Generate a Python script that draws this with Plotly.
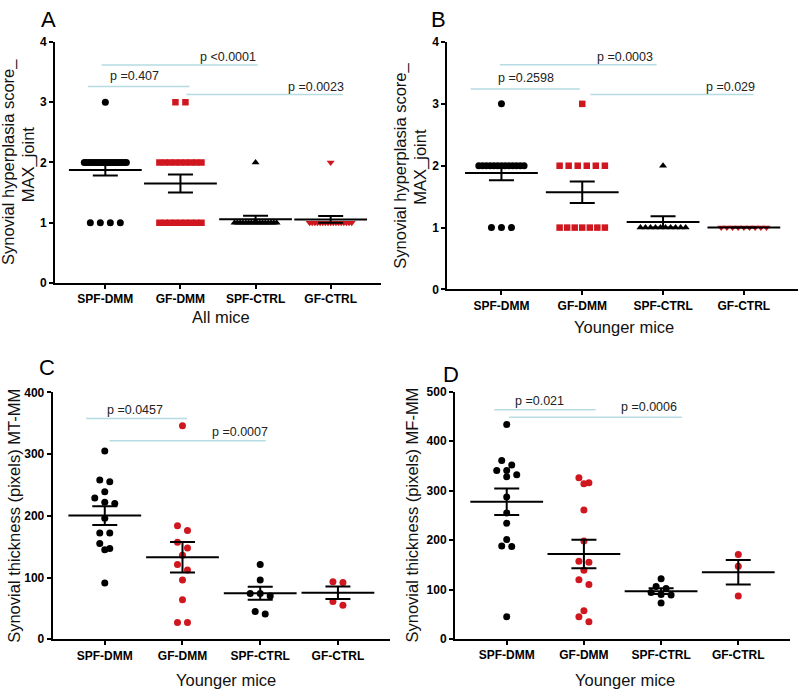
import numpy as np
import plotly.graph_objects as go

W, H = 800, 693

# ---------------- data ----------------
categories = ["SPF-DMM", "GF-DMM", "SPF-CTRL", "GF-CTRL"]

# Panel A: all mice, synovial hyperplasia score (MAX_joint)
a_spf_dmm = [3, 2, 2, 2, 2, 2, 2, 2, 2, 2, 2, 2, 2, 2, 2, 2, 2, 2, 2, 2, 1, 1, 1, 1]
a_gf_dmm = [3, 3, 2, 2, 2, 2, 2, 2, 2, 2, 2, 1, 1, 1, 1, 1, 1, 1, 1, 1]
a_spf_ctrl = [2, 1, 1, 1, 1, 1, 1, 1, 1, 1, 1, 1, 1, 1, 1, 1, 1]
a_gf_ctrl = [2, 1, 1, 1, 1, 1, 1, 1, 1, 1, 1, 1, 1, 1, 1, 1, 1, 1]

# Panel B: younger mice, synovial hyperplasia score (MAX_joint)
b_spf_dmm = [3, 2, 2, 2, 2, 2, 2, 2, 2, 2, 2, 2, 2, 2, 1, 1, 1]
b_gf_dmm = [3, 2, 2, 2, 2, 2, 2, 1, 1, 1, 1, 1, 1, 1]
b_spf_ctrl = [2, 1, 1, 1, 1, 1, 1, 1, 1, 1, 1]
b_gf_ctrl = [1, 1, 1, 1, 1, 1, 1, 1, 1]

# Panel C: younger mice, synovial thickness (pixels) MT-MM
c_spf_dmm = [305, 258, 255, 239, 229, 222, 220, 196, 172, 172, 155, 147, 145, 91]
c_gf_dmm = [346, 184, 176, 157, 148, 136, 121, 112, 96, 64, 27, 27]
c_spf_ctrl = [121, 96, 74, 74, 70, 45, 41]
c_gf_ctrl = [93, 92, 61, 55]

# Panel D: younger mice, synovial thickness (pixels) MF-MM
d_spf_dmm = [434, 361, 352, 341, 341, 332, 328, 287, 255, 234, 201, 188, 187, 45]
d_gf_dmm = [326, 316, 314, 261, 198, 157, 155, 139, 120, 110, 57, 45, 35]
d_spf_ctrl = [122, 106, 102, 94, 90, 89, 73]
d_gf_ctrl = [171, 147, 87]

# p-value labels
a_pvals = ["p <0.0001", "p =0.407", "p =0.0023"]
b_pvals = ["p =0.0003", "p =0.2598", "p =0.029"]
c_pvals = ["p =0.0457", "p =0.0007"]
d_pvals = ["p =0.021", "p =0.0006"]

# ---------------- style ----------------
BLACK = "#000000"
RED = "#d0161e"
PLINE = "#b5dbe3"
FONT = "Liberation Sans, Arial, sans-serif"
XR = (-0.67, 3.67)

panels = [
    dict(letter="A", letter_xy=(48.5, 12.5), xpx=(55, 381), ypx=(281.7, 35.7), yrange=(0, 4), dtick=1,
         data=[a_spf_dmm, a_gf_dmm, a_spf_ctrl, a_gf_ctrl],
         symbols=["circle", "square", "triangle-up", "triangle-down"], sizes=[7, 6.5, 7, 7],
         xtitle="All mice", xtitle_xy=(220.5, 316.7),
         ytitles=[("Synovial hyperplasia score_", 8.5, 158.7), ("MAX_joint", 28.5, 160)],
         plines=[(-0.05, 2.03, 3.62), (-0.23, 1.12, 3.26), (1.08, 3.16, 3.13)],
         ptexts=[(1.63, 3.75), (0.39, 3.43), (2.81, 3.26)], plabels=a_pvals),
    dict(letter="B", letter_xy=(439, 12.5), xpx=(447.3, 798), ypx=(288.3, 35.7), yrange=(0, 4), dtick=1,
         data=[b_spf_dmm, b_gf_dmm, b_spf_ctrl, b_gf_ctrl],
         symbols=["circle", "square", "triangle-up", "triangle-down"], sizes=[7, 6.5, 7, 7],
         xtitle="Younger mice", xtitle_xy=(624.3, 326.7),
         ytitles=[("Synovial hyperplasia score_", 401, 162), ("MAX_joint", 421, 163)],
         plines=[(-0.02, 1.92, 3.63), (-0.38, 0.97, 3.24), (1.10, 3.12, 3.15)],
         ptexts=[(1.53, 3.76), (0.31, 3.42), (2.84, 3.28)], plabels=b_pvals),
    dict(letter="C", letter_xy=(47, 367.5), xpx=(52.7, 390), ypx=(645.3, 393.3), yrange=(0, 400), dtick=100,
         data=[c_spf_dmm, c_gf_dmm, c_spf_ctrl, c_gf_ctrl],
         symbols=["circle"] * 4, sizes=[7, 7, 7, 7],
         xtitle="Younger mice", xtitle_xy=(225.5, 687),
         ytitles=[("Synovial thickness (pixels) MT-MM", 14, 519.3)],
         plines=[(-0.24, 1.06, 357.6), (0.06, 2.07, 321.6)],
         ptexts=[(0.39, 371.9), (1.74, 335)], plabels=c_pvals),
    dict(letter="D", letter_xy=(451, 375), xpx=(455, 790), ypx=(645, 392.7), yrange=(0, 500), dtick=100,
         data=[d_spf_dmm, d_gf_dmm, d_spf_ctrl, d_gf_ctrl],
         symbols=["circle"] * 4, sizes=[7, 7, 7, 7],
         xtitle="Younger mice", xtitle_xy=(624.5, 687),
         ytitles=[("Synovial thickness (pixels) MF-MM", 412, 519)],
         plines=[(-0.16, 1.15, 463.7), (0.03, 2.27, 448.5)],
         ptexts=[(0.43, 481), (1.84, 469)], plabels=d_pvals),
]
colors = [BLACK, RED, BLACK, RED]


def swarm_offsets(values, px_per_x, px_per_y, spacing_px=10.0, row_tol_px=6.0, max_width_x=0.56):
    """Deterministic beeswarm: points whose values are within a marker height share a row,
    and each row is spread symmetrically around the category centre."""
    vals = np.asarray(values, float)
    order = np.argsort(-vals, kind="stable")
    offsets = np.zeros(len(vals))
    rows = []
    for idx in order:
        if rows and (vals[rows[-1][0]] - vals[idx]) * px_per_y <= row_tol_px:
            rows[-1].append(idx)
        else:
            rows.append([idx])
    for row in rows:
        n = len(row)
        if n == 1:
            continue
        step = min(spacing_px / px_per_x, max_width_x / (n - 1))
        for j, idx in enumerate(row):
            offsets[idx] = (j - (n - 1) / 2) * step
    return offsets


fig = go.Figure()
annotations = []
shapes = []
layout = {}

for k, p in enumerate(panels, start=1):
    xa = "x" if k == 1 else f"x{k}"
    ya = "y" if k == 1 else f"y{k}"
    xkey = "xaxis" if k == 1 else f"xaxis{k}"
    ykey = "yaxis" if k == 1 else f"yaxis{k}"
    x0, x1 = p["xpx"]
    yb, yt = p["ypx"]
    px_per_x = (x1 - x0) / (XR[1] - XR[0])
    px_per_y = (yb - yt) / (p["yrange"][1] - p["yrange"][0])

    axis_common = dict(showline=True, linecolor=BLACK, linewidth=2, ticks="outside", ticklen=4,
                       tickwidth=2, tickcolor=BLACK, showgrid=False, zeroline=False, fixedrange=True,
                       tickfont=dict(family=FONT, size=12, color=BLACK, weight="bold"))
    layout[xkey] = dict(domain=[x0 / W, x1 / W], range=list(XR), anchor=ya,
                        tickvals=list(range(len(categories))), ticktext=categories, **axis_common)
    layout[ykey] = dict(domain=[(H - yb) / H, (H - yt) / H], range=list(p["yrange"]), anchor=xa,
                        dtick=p["dtick"], tick0=0, **axis_common)

    for i, vals in enumerate(p["data"]):
        offs = swarm_offsets(vals, px_per_x, px_per_y)
        fig.add_trace(go.Scatter(
            x=i + offs, y=vals, mode="markers", xaxis=xa, yaxis=ya,
            marker=dict(symbol=p["symbols"][i], size=p["sizes"][i], color=colors[i], line=dict(width=0)),
            showlegend=False, hoverinfo="skip", cliponaxis=False))
    for i, vals in enumerate(p["data"]):
        arr = np.asarray(vals, float)
        mean = arr.mean()
        sem = arr.std(ddof=1) / np.sqrt(len(arr))
        fig.add_trace(go.Scatter(
            x=[i], y=[mean], mode="markers", xaxis=xa, yaxis=ya,
            marker=dict(symbol="line-ew", size=52, color=BLACK, line=dict(width=2, color=BLACK)),
            error_y=dict(type="data", array=[sem], width=12.5, thickness=2, color=BLACK),
            showlegend=False, hoverinfo="skip", cliponaxis=False))

    for (xs, xe, yv), (tx, ty), lab in zip(p["plines"], p["ptexts"], p["plabels"]):
        shapes.append(dict(type="line", xref=xa, yref=ya, x0=xs, x1=xe, y0=yv, y1=yv,
                           line=dict(color=PLINE, width=1.5)))
        annotations.append(dict(xref=xa, yref=ya, x=tx, y=ty, text=lab, showarrow=False,
                                xanchor="center", yanchor="middle",
                                font=dict(family=FONT, size=12.5, color="#222222")))

    lx, ly = p["letter_xy"]
    annotations.append(dict(xref="paper", yref="paper", x=lx / W, y=1 - ly / H, text=p["letter"],
                            showarrow=False, xanchor="center", yanchor="middle",
                            font=dict(family=FONT, size=22, color=BLACK)))
    tx, ty = p["xtitle_xy"]
    annotations.append(dict(xref="paper", yref="paper", x=tx / W, y=1 - ty / H, text=p["xtitle"],
                            showarrow=False, xanchor="center", yanchor="middle",
                            font=dict(family=FONT, size=16.5, color="#111111")))
    for text, tx, ty in p["ytitles"]:
        annotations.append(dict(xref="paper", yref="paper", x=tx / W, y=1 - ty / H, text=text,
                                showarrow=False, xanchor="center", yanchor="middle", textangle=-90,
                                font=dict(family=FONT, size=16.5, color="#111111")))

fig.update_layout(
    width=W, height=H, margin=dict(l=0, r=0, t=0, b=0),
    paper_bgcolor="white", plot_bgcolor="white",
    showlegend=False, annotations=annotations, shapes=shapes,
    font=dict(family=FONT, color=BLACK), **layout)

fig.write_html("out.html", config={"displayModeBar": False},
               post_script="document.body.style.margin='0';document.body.style.overflow='hidden';")
